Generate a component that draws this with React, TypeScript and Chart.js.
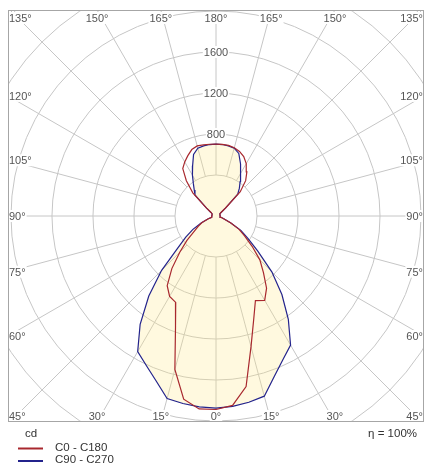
import React, { useEffect, useRef } from "react";
import { Chart, registerables } from "chart.js";

Chart.register(...registerables);

// gamma angles (0 = nadir, 180 = zenith)
const ANGLES = [0, 5, 10, 15, 20, 25, 30, 35, 40, 45, 50, 55, 60, 65, 70, 75, 80, 85, 90, 95, 100, 105, 110, 115, 120, 125, 130, 135, 140, 145, 150, 155, 160, 165, 170, 175, 180];

// C0 - C180 plane (cd): right half C0, left half C180
const C0 = [1888, 1855, 1690, 1320, 1075, 910, 950, 860, 720, 605, 460, 340, 260, 160, 80, 50, 42, 40, 40, 40, 40, 40, 40, 42, 45, 60, 125, 335, 450, 525, 590, 640, 670, 690, 700, 702, 702];
const C180 = [1888, 1890, 1815, 1550, 1155, 930, 905, 830, 670, 500, 370, 260, 200, 150, 80, 50, 42, 40, 40, 40, 40, 40, 40, 42, 45, 60, 130, 320, 450, 565, 610, 650, 690, 708, 705, 703, 702];

// C90 - C270 plane (cd): right half C90, left half C270
const C90 = [1875, 1865, 1845, 1820, 1665, 1546, 1455, 1230, 1000, 770, 530, 380, 280, 160, 80, 50, 42, 40, 40, 40, 40, 40, 40, 42, 45, 60, 120, 300, 355, 410, 485, 560, 650, 685, 695, 700, 702];
const C270 = [1875, 1870, 1858, 1843, 1711, 1609, 1528, 1290, 1020, 750, 490, 360, 260, 160, 80, 50, 42, 40, 40, 40, 40, 40, 40, 42, 45, 60, 120, 290, 330, 385, 460, 540, 640, 685, 695, 700, 702];

const RING_VALUES = [400, 800, 1200, 1600, 2000, 2400, 2800];
const RING_LABELS = [800, 1200, 1600];
const SPOKE_ANGLES = [0, 15, 30, 45, 60, 75, 90, 105, 120, 135, 150, 165, 180, 195, 210, 225, 240, 255, 270, 285, 300, 315, 330, 345];
const SERIES_NAMES = ["C0 - C180", "C90 - C270"];
const UNIT_LABEL = "cd";
const EFFICIENCY_LABEL = "η = 100%";

const RED = "#a8282e";
const BLUE = "#23238c";
const FILL = "rgba(255, 232, 130, 0.26)";
const GRID = "#c6c6c6";
const FONT = "'Liberation Sans', Arial, Helvetica, sans-serif";

function toPoints(right: number[], left: number[]) {
  const pts: { x: number; y: number }[] = [];
  for (let i = 0; i < ANGLES.length; i++) {
    const g = (ANGLES[i] * Math.PI) / 180;
    pts.push({ x: right[i] * Math.sin(g), y: -right[i] * Math.cos(g) });
  }
  for (let i = ANGLES.length - 1; i >= 0; i--) {
    const g = (ANGLES[i] * Math.PI) / 180;
    pts.push({ x: -left[i] * Math.sin(g), y: -left[i] * Math.cos(g) });
  }
  return pts;
}

function maskedText(ctx: CanvasRenderingContext2D, text: string, x: number, baseline: number, align: string, color: string) {
  const w = ctx.measureText(text).width;
  const x0 = align === "left" ? x : align === "right" ? x - w : x - w / 2;
  ctx.fillStyle = "#ffffff";
  ctx.fillRect(x0 - 1, baseline - 10, w + 2, 12);
  ctx.fillStyle = color;
  ctx.textAlign = "left";
  ctx.textBaseline = "alphabetic";
  ctx.fillText(text, x0, baseline);
}

const polarPlugin = {
  id: "polarPlugin",
  beforeDatasetsDraw(chart: any) {
    const { ctx, chartArea: a, scales } = chart;
    const xs = scales.x;
    const ys = scales.y;
    const cx = xs.getPixelForValue(0);
    const cy = ys.getPixelForValue(0);
    ctx.save();
    ctx.beginPath();
    ctx.rect(a.left, a.top, a.right - a.left, a.bottom - a.top);
    ctx.clip();
    ctx.strokeStyle = GRID;
    ctx.lineWidth = 1;
    RING_VALUES.forEach((v) => {
      const r = Math.abs(xs.getPixelForValue(v) - cx);
      ctx.beginPath();
      ctx.arc(cx, cy, r, 0, Math.PI * 2);
      ctx.stroke();
    });
    const r0 = Math.abs(xs.getPixelForValue(RING_VALUES[0]) - cx);
    const rMax = 1000;
    SPOKE_ANGLES.forEach((d) => {
      const g = (d * Math.PI) / 180;
      const sx = Math.sin(g);
      const sy = Math.cos(g);
      ctx.beginPath();
      ctx.moveTo(cx + r0 * sx, cy + r0 * sy);
      ctx.lineTo(cx + rMax * sx, cy + rMax * sy);
      ctx.stroke();
    });
    ctx.restore();
  },
  afterDraw(chart: any) {
    const { ctx, chartArea: a, scales } = chart;
    const xs = scales.x;
    const ys = scales.y;
    const cx = xs.getPixelForValue(0);
    const cy = ys.getPixelForValue(0);
    ctx.save();
    ctx.font = `11px ${FONT}`;
    RING_LABELS.forEach((v) => {
      const py = ys.getPixelForValue(v);
      maskedText(ctx, String(v), cx, py + 4, "center", "#555555");
    });
    SPOKE_ANGLES.forEach((d) => {
      const g = (d * Math.PI) / 180;
      const sx = Math.sin(g);
      const sy = Math.cos(g);
      const halfW = sx > 0 ? a.right - cx : cx - a.left;
      const halfH = sy > 0 ? a.bottom - cy : cy - a.top;
      const tx = Math.abs(sx) > 1e-9 ? halfW / Math.abs(sx) : Infinity;
      const ty = Math.abs(sy) > 1e-9 ? halfH / Math.abs(sy) : Infinity;
      const label = `${d <= 180 ? d : 360 - d}°`;
      const topBase = a.top + 12;
      const botBase = a.bottom - 2;
      if (d % 90 === 45) {
        const align = sx > 0 ? "right" : "left";
        const x = sx > 0 ? a.right - 1 : a.left + 1;
        maskedText(ctx, label, x, sy > 0 ? botBase : topBase, align, "#555555");
      } else if (ty < tx) {
        const x = cx + ty * sx;
        maskedText(ctx, label, x, sy > 0 ? botBase : topBase, "center", "#555555");
      } else {
        const y = cy + tx * sy;
        const align = sx > 0 ? "right" : "left";
        const x = sx > 0 ? a.right - 1 : a.left + 1;
        maskedText(ctx, label, x, y + 4, align, "#555555");
      }
    });
    ctx.strokeStyle = "#a6a6a6";
    ctx.lineWidth = 1;
    ctx.strokeRect(a.left + 0.5, a.top + 0.5, a.right - a.left - 1, a.bottom - a.top - 1);

    ctx.font = `11.5px ${FONT}`;
    ctx.fillStyle = "#333333";
    ctx.textBaseline = "alphabetic";
    ctx.textAlign = "left";
    ctx.fillText(UNIT_LABEL, 25, a.bottom + 15);
    ctx.textAlign = "right";
    ctx.fillText(EFFICIENCY_LABEL, 417, a.bottom + 15);
    const colors = [RED, BLUE];
    SERIES_NAMES.forEach((name, i) => {
      const ly = a.bottom + 26.5 + i * 12.5;
      ctx.strokeStyle = colors[i];
      ctx.lineWidth = 2;
      ctx.beginPath();
      ctx.moveTo(18, ly);
      ctx.lineTo(43, ly);
      ctx.stroke();
      ctx.fillStyle = "#333333";
      ctx.textAlign = "left";
      ctx.fillText(name, 55, ly + 2);
    });
    ctx.restore();
  },
};

export default function App() {
  const ref = useRef<HTMLCanvasElement>(null);
  useEffect(() => {
    document.body.style.margin = "0";
    const canvas = ref.current;
    if (!canvas) return;
    const chart = new Chart(canvas, {
      type: "line",
      data: {
        datasets: [
          {
            label: SERIES_NAMES[0],
            data: toPoints(C0, C180),
            borderColor: RED,
            borderWidth: 1.2,
            pointRadius: 0,
            fill: false,
            tension: 0,
          },
          {
            label: SERIES_NAMES[1],
            data: toPoints(C90, C270),
            borderColor: BLUE,
            borderWidth: 1.2,
            pointRadius: 0,
            fill: "shape",
            backgroundColor: FILL,
            tension: 0,
          },
        ],
      },
      options: {
        animation: false,
        responsive: false,
        layout: { padding: { left: 8, top: 10, right: 1, bottom: 44 } },
        plugins: { legend: { display: false }, tooltip: { enabled: false } },
        events: [],
        scales: {
          x: { type: "linear", min: -2029, max: 2029, display: false },
          y: { type: "linear", min: -2010, max: 2010, display: false },
        },
      },
      plugins: [polarPlugin],
    } as any);
    return () => chart.destroy();
  }, []);
  return (
    <div style={{ width: 425, height: 466, overflow: "hidden" }}>
      <canvas ref={ref} width={425} height={466} style={{ display: "block" }} />
    </div>
  );
}
